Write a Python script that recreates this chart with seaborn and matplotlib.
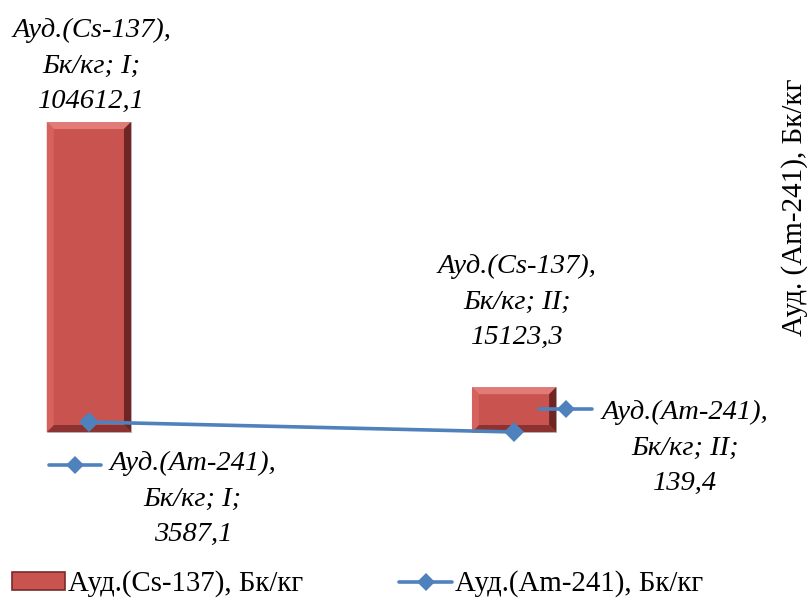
import numpy as np
import matplotlib
matplotlib.use("Agg")
import matplotlib.pyplot as plt
import seaborn as sns
from matplotlib.patches import Polygon, Patch
from matplotlib.lines import Line2D
from matplotlib.transforms import IdentityTransform

# data
categories = ["I", "II"]
cs_values = [104612.1, 15123.3]
am_values = [3587.1, 139.4]
cs_name = "Ауд.(Cs-137), Бк/кг"
am_name = "Ауд.(Am-241), Бк/кг"
y2_label = "Ауд. (Am-241), Бк/кг"
cs_labels = ["Ауд.(Cs-137),\nБк/кг; I;\n104612,1", "Ауд.(Cs-137),\nБк/кг; II;\n15123,3"]
am_labels = ["Ауд.(Am-241),\nБк/кг; I;\n3587,1", "Ауд.(Am-241),\nБк/кг; II;\n139,4"]

sns.set_style("white")
plt.rcParams["font.family"] = ["Liberation Serif", "DejaVu Serif"]
plt.rcParams["text.color"] = "black"

bar_color = "#C9534F"
line_color = "#4F81BD"
fs = 20.5

fig = plt.figure(figsize=(8.07, 5.99), dpi=100)
ax = fig.add_axes([0, 149 / 599, 1, 450 / 599])

sns.barplot(x=categories, y=cs_values, ax=ax, color=bar_color, width=0.198,
            saturation=1, edgecolor="#B0B0B0", linewidth=0.6)
ax.set_xlim(-0.209, 1.689)
ax.set_ylim(-6075, 145800)

ax2 = ax.twinx()
sns.lineplot(x=np.arange(len(categories)), y=am_values, ax=ax2, color=line_color,
             linewidth=2.6, marker="D", markersize=10, markeredgewidth=0)
ax2.set_ylim(-6068, 149092)

for a in (ax, ax2):
    a.set_xticks([])
    a.set_yticks([])
    a.set_xlabel("")
    a.set_ylabel("")
    for s in a.spines.values():
        s.set_visible(False)
    a.patch.set_alpha(0)

# bevel effect on bars
fig.canvas.draw()
b = 7
for p in list(ax.patches):
    x0, y0 = ax.transData.transform((p.get_x(), p.get_y()))
    x1, y1 = ax.transData.transform((p.get_x() + p.get_width(), p.get_y() + p.get_height()))
    sides = [
        ([(x0, y1), (x1, y1), (x1 - b, y1 - b), (x0 + b, y1 - b)], "#E27B77"),
        ([(x1, y1), (x1, y0), (x1 - b, y0 + b), (x1 - b, y1 - b)], "#6E2624"),
        ([(x0, y0), (x1, y0), (x1 - b, y0 + b), (x0 + b, y0 + b)], "#8C3331"),
        ([(x0, y0), (x0, y1), (x0 + b, y1 - b), (x0 + b, y0 + b)], "#D6625E"),
    ]
    for pts, c in sides:
        ax.add_artist(Polygon(pts, closed=True, facecolor=c, edgecolor="none",
                              transform=IdentityTransform(), zorder=3))

# data labels for bars
cs_off = [56, 85]
for i, (v, lab) in enumerate(zip(cs_values, cs_labels)):
    ax.annotate(lab, xy=(i, v), xytext=(3, cs_off[i]), textcoords="offset pixels",
                ha="center", va="center", fontsize=fs, style="italic", linespacing=1.55)

# data labels for line, with small legend keys
am_off = [(104, -77), (171, -16)]
key_pos = [(-40, 12, -43), (25, 78, 23)]
for i, (v, lab) in enumerate(zip(am_values, am_labels)):
    ax2.annotate(lab, xy=(i, v), xytext=am_off[i], textcoords="offset pixels",
                 ha="center", va="center", fontsize=fs, style="italic", linespacing=1.55)
    px, py = ax2.transData.transform((i, v))
    k0, k1, dy = key_pos[i]
    kx0, kx1, ky = px + k0, px + k1, py + dy
    fig.lines.append(Line2D([kx0, kx1], [ky, ky], color=line_color, linewidth=2.6,
                            transform=IdentityTransform(), figure=fig))
    fig.lines.append(Line2D([(kx0 + kx1) / 2], [ky], color=line_color, marker="D",
                            markersize=9, markeredgewidth=0, linestyle="none",
                            transform=IdentityTransform(), figure=fig))

fig.text(795 / 807, 1 - 207 / 599, y2_label, rotation=90, ha="center", va="center",
         fontsize=21)

handles = [Patch(facecolor=bar_color, edgecolor="#7A2B29", linewidth=1.2),
           Line2D([0], [0], color=line_color, linewidth=2.6, marker="D", markersize=9,
                  markeredgewidth=0)]
fig.legend(handles, [cs_name, am_name], loc="center", bbox_to_anchor=(0.443, 1 - 584 / 599),
           ncol=2, frameon=False, fontsize=20.8, handlelength=1.85, handleheight=0.55,
           handletextpad=0.1, columnspacing=3.32)

fig.savefig("out.png", dpi=100)
